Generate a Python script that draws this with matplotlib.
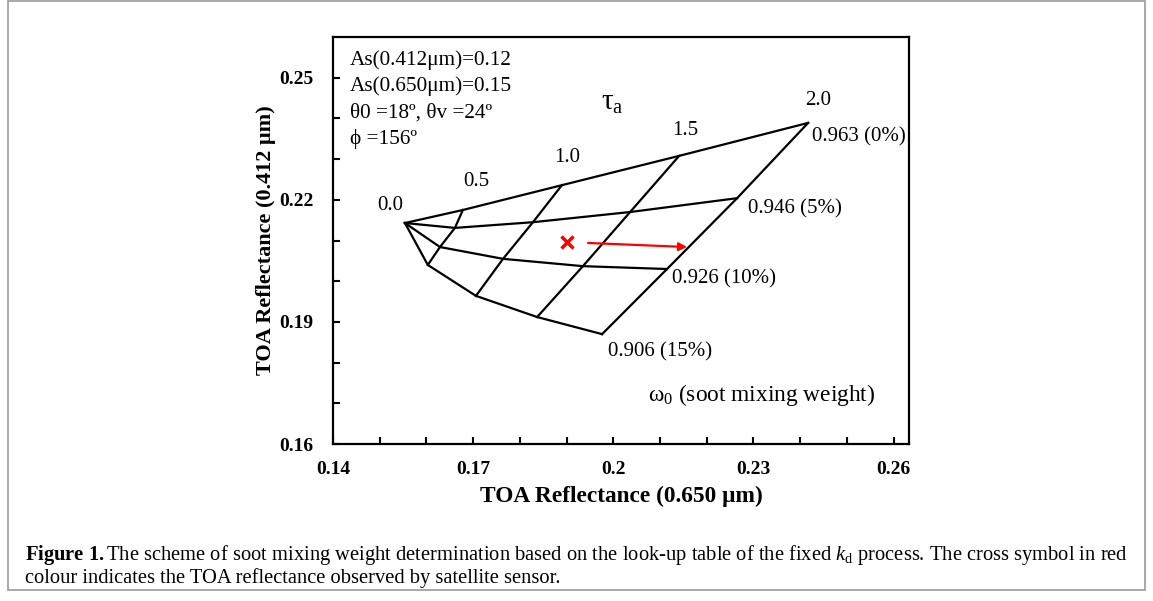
import matplotlib
matplotlib.use("Agg")
import matplotlib.pyplot as plt
from matplotlib.ticker import FixedLocator
from matplotlib.patches import Rectangle

plt.rcParams['font.family'] = ['Liberation Serif', 'DejaVu Serif']
plt.rcParams['mathtext.fontset'] = 'custom'
plt.rcParams['mathtext.rm'] = 'Liberation Serif'
plt.rcParams['mathtext.it'] = 'Liberation Serif:italic'
plt.rcParams['mathtext.bf'] = 'Liberation Serif:bold'

# Look-up table: TOA reflectance for each soot mixing weight (rows) and AOD (cols)
tau_labels = ['0.0', '0.5', '1.0', '1.5', '2.0']
omega_labels = ['0.963 (0%)', '0.946 (5%)', '0.926 (10%)', '0.906 (15%)']
r650 = [
    [0.1554, 0.1678, 0.1890, 0.2141, 0.2417],
    [0.1554, 0.1661, 0.1828, 0.2036, 0.2265],
    [0.1554, 0.1629, 0.1764, 0.1935, 0.2115],
    [0.1554, 0.1603, 0.1706, 0.1837, 0.1976],
]
r412 = [
    [0.2143, 0.2175, 0.2236, 0.2308, 0.2389],
    [0.2143, 0.2131, 0.2145, 0.2170, 0.2204],
    [0.2143, 0.2084, 0.2055, 0.2037, 0.2030],
    [0.2143, 0.2040, 0.1964, 0.1912, 0.1870],
]

# observed satellite reflectance and shift arrow
obs_650, obs_412 = 0.1901, 0.2096
arrow_from = (0.1946, 0.2094)
arrow_to = (0.2158, 0.2084)

x_ticks = [0.14, 0.17, 0.2, 0.23, 0.26]
x_ticklabels = ['0.14', '0.17', '0.2', '0.23', '0.26']
y_ticks = [0.16, 0.19, 0.22, 0.25]
y_ticklabels = ['0.16', '0.19', '0.22', '0.25']
x_minor = [0.15, 0.16, 0.18, 0.19, 0.21, 0.22, 0.24, 0.25]
y_minor = [0.17, 0.18, 0.20, 0.21, 0.23, 0.24]

fig = plt.figure(figsize=(11.53, 6.01), dpi=100)
ax = fig.add_axes([0.2888, 0.2612, 0.4996, 0.6772])

# soot mixing weight curves
for i in range(len(r650)):
    ax.plot(r650[i], r412[i], color='black', lw=1.6, solid_joinstyle='miter')
# AOD lines
for j in range(1, len(tau_labels)):
    ax.plot([row[j] for row in r650], [row[j] for row in r412], color='black', lw=1.6)

ax.plot(obs_650, obs_412, marker='x', color='red', ms=9, mew=2.5, ls='none')
ax.annotate('', xy=arrow_to, xytext=arrow_from,
            arrowprops=dict(arrowstyle='-|>', color='red', lw=1.6, mutation_scale=12,
                            shrinkA=0, shrinkB=0))

# tau labels
tau_pos = [(0.1522, 0.2187), (0.1706, 0.2244), (0.1901, 0.2303), (0.2154, 0.2371), (0.2439, 0.2443)]
for lab, (x, y) in zip(tau_labels, tau_pos):
    ax.text(x, y, lab, fontsize=15, ha='center', va='center')
ax.text(0.1997, 0.2438, r'$\mathrm{τ_{a}}$', fontsize=21, ha='center', va='center')

# omega labels
omega_pos = [(0.2426, 0.2354), (0.2289, 0.2177), (0.2126, 0.2005), (0.1989, 0.1826)]
for lab, (x, y) in zip(omega_labels, omega_pos):
    ax.text(x, y, lab, fontsize=15, ha='left', va='center')
ax.text(0.2075, 0.1720, r'$\mathrm{ω_{0}}$ (soot mixing weight)', fontsize=16.8, ha='left', va='center')

info = ['As(0.412μm)=0.12', 'As(0.650μm)=0.15', 'θ0 =18º, θv =24º', 'ϕ =156º']
for k, line in enumerate(info):
    ax.text(0.1436, 0.2543 - k * 0.00645, line, fontsize=15.3, ha='left', va='center')

ax.set_xlim(0.14, 0.2633)
ax.set_ylim(0.16, 0.26)
ax.xaxis.set_major_locator(FixedLocator(x_ticks))
ax.xaxis.set_minor_locator(FixedLocator(x_minor))
ax.yaxis.set_major_locator(FixedLocator(y_ticks))
ax.yaxis.set_minor_locator(FixedLocator(y_minor))
ax.set_xticklabels(x_ticklabels, fontsize=14, fontweight='bold')
ax.set_yticklabels(y_ticklabels, fontsize=14, fontweight='bold')
ax.tick_params(which='both', direction='in', length=5, width=1.5, top=False, right=False)
ax.tick_params(axis='x', pad=12)
ax.tick_params(axis='y', pad=14)
for s in ax.spines.values():
    s.set_linewidth(1.6)

ax.set_xlabel('TOA Reflectance (0.650 μm)', fontsize=16.8, fontweight='bold', labelpad=6)
ax.set_ylabel('TOA Reflectance (0.412 μm)', fontsize=16, fontweight='bold', labelpad=2)

# caption and frame
fig.patches.append(Rectangle((8 / 1153, 11 / 601), 1137 / 1153, 589 / 601, transform=fig.transFigure,
                             fill=False, edgecolor='#999999', lw=1.2))
fig.text(25 / 1153, 1 - 555 / 601,
         r'$\mathbf{Figure\ 1.}$The scheme of soot mixing weight determination based on the look-up table '
         r'of the fixed $\mathit{k}_{\mathrm{d}}$ process. The cross symbol in red',
         fontsize=14.75, ha='left', va='center')
fig.text(25 / 1153, 1 - 578 / 601, 'colour indicates the TOA reflectance observed by satellite sensor.',
         fontsize=14.75, ha='left', va='center')

fig.savefig('out.png', dpi=100)
